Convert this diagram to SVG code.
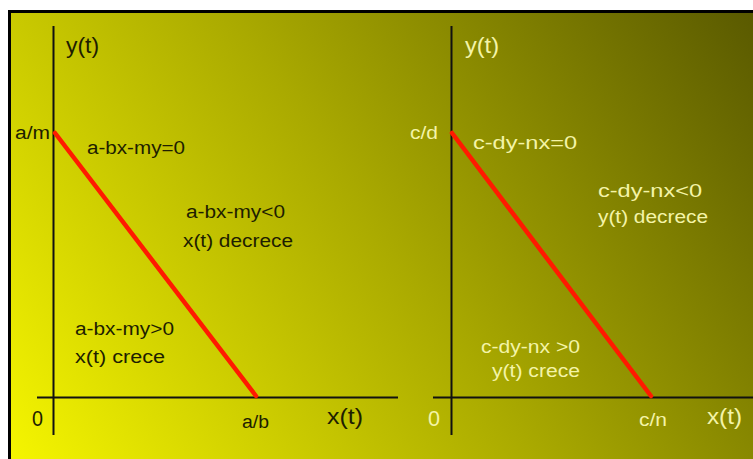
<svg xmlns="http://www.w3.org/2000/svg" width="753" height="459" viewBox="0 0 753 459">
<defs>
<linearGradient id="bg" gradientUnits="userSpaceOnUse" x1="11" y1="459" x2="723" y2="-30">
<stop offset="0" stop-color="#f5f500"/>
<stop offset="0.5" stop-color="#aaaa00"/>
<stop offset="1" stop-color="#5a5a00"/>
</linearGradient>
</defs>
<style>
.ax{stroke:#111;stroke-width:2;fill:none}
.rl{stroke:#ff1a00;stroke-width:4.5;stroke-linecap:round;fill:none}
text{font-family:"Liberation Sans","DejaVu Sans",sans-serif;font-size:18px}
.big{font-size:22px}
.dk{fill:#1e1e00}
.lt{fill:#f4f4a8}
</style>
<rect x="0" y="0" width="753" height="459" fill="#ffffff"/>
<rect x="8" y="10" width="745" height="449" fill="#000"/>
<rect x="11" y="13" width="742" height="446" fill="url(#bg)"/>
<g id="left-plot">
<line class="ax" x1="53.5" y1="26" x2="53.5" y2="435"/>
<line class="ax" x1="37" y1="397.5" x2="398" y2="397.5"/>
<line class="rl" x1="55" y1="133" x2="256" y2="396"/>
<text class="dk big" x="66" y="53" textLength="33" lengthAdjust="spacingAndGlyphs">y(t)</text>
<text class="dk" x="15" y="139" textLength="35" lengthAdjust="spacingAndGlyphs">a/m</text>
<text class="dk" x="87" y="154" textLength="98" lengthAdjust="spacingAndGlyphs">a-bx-my=0</text>
<text class="dk" x="186" y="218" textLength="99" lengthAdjust="spacingAndGlyphs">a-bx-my&lt;0</text>
<text class="dk" x="183" y="247" textLength="110" lengthAdjust="spacingAndGlyphs">x(t) decrece</text>
<text class="dk" x="75" y="335" textLength="99" lengthAdjust="spacingAndGlyphs">a-bx-my&gt;0</text>
<text class="dk" x="75" y="363" textLength="90" lengthAdjust="spacingAndGlyphs">x(t) crece</text>
<text class="dk big" x="32" y="426" textLength="11" lengthAdjust="spacingAndGlyphs">0</text>
<text class="dk" x="242" y="428" textLength="27" lengthAdjust="spacingAndGlyphs">a/b</text>
<text class="dk big" x="327" y="424" textLength="36" lengthAdjust="spacingAndGlyphs">x(t)</text>
</g>
<g id="right-plot">
<line class="ax" x1="451.5" y1="26" x2="451.5" y2="435"/>
<line class="ax" x1="433" y1="397.5" x2="753" y2="397.5"/>
<line class="rl" x1="452" y1="133" x2="651" y2="396"/>
<text class="lt big" x="465" y="53" textLength="34" lengthAdjust="spacingAndGlyphs">y(t)</text>
<text class="lt" x="410" y="139" textLength="28" lengthAdjust="spacingAndGlyphs">c/d</text>
<text class="lt" x="473" y="149" textLength="104" lengthAdjust="spacingAndGlyphs">c-dy-nx=0</text>
<text class="lt" x="598" y="197" textLength="104" lengthAdjust="spacingAndGlyphs">c-dy-nx&lt;0</text>
<text class="lt" x="598" y="223" textLength="110" lengthAdjust="spacingAndGlyphs">y(t) decrece</text>
<text class="lt" x="481" y="353" textLength="99" lengthAdjust="spacingAndGlyphs">c-dy-nx &gt;0</text>
<text class="lt" x="492" y="377" textLength="88" lengthAdjust="spacingAndGlyphs">y(t) crece</text>
<text class="lt big" x="428" y="426" textLength="12" lengthAdjust="spacingAndGlyphs">0</text>
<text class="lt" x="639" y="426" textLength="28" lengthAdjust="spacingAndGlyphs">c/n</text>
<text class="lt big" x="707" y="424" textLength="35" lengthAdjust="spacingAndGlyphs">x(t)</text>
</g>
</svg>
